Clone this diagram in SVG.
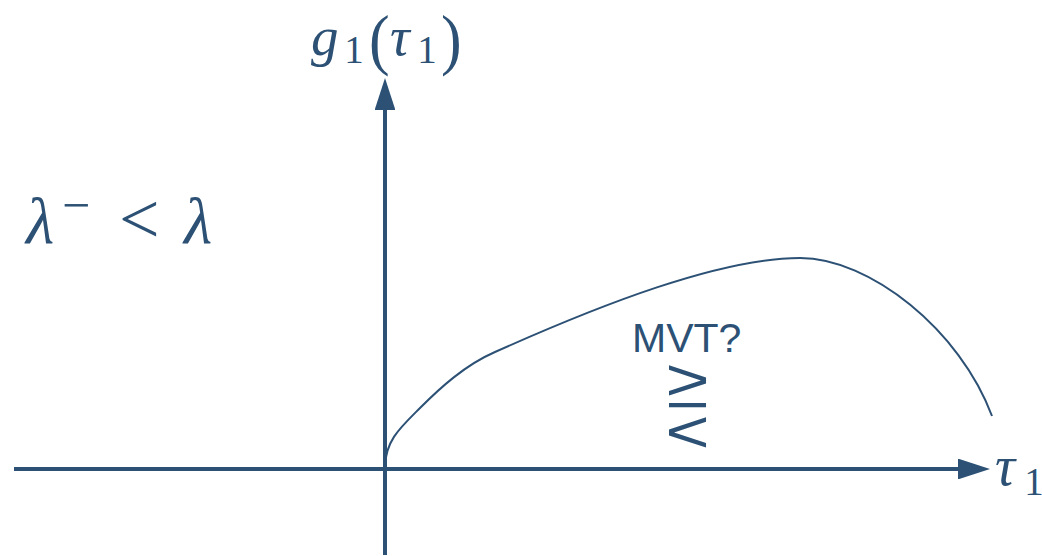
<svg xmlns="http://www.w3.org/2000/svg" width="1042" height="556" viewBox="0 0 1042 556">
<style>
.ax{stroke:#2c5175;stroke-width:4;fill:none}
.cv{stroke:#2c5175;stroke-width:2;fill:none}
.m{font-family:"Liberation Serif","DejaVu Serif",serif;fill:#2c5175}
.i{font-style:italic}
.s{font-family:"Liberation Sans",Arial,sans-serif;fill:#2c5175}
</style>
<defs>
<marker id="ah" markerWidth="8" markerHeight="5.2" refX="0" refY="2.6" orient="auto" markerUnits="strokeWidth">
<path d="M0,0 L8,2.6 L0,5.2 Z" fill="#2c5175"/>
</marker>
</defs>
<g id="connectors">
<line class="ax" x1="14" y1="469" x2="958" y2="469" marker-end="url(#ah)"/>
<line class="ax" x1="385" y1="555" x2="385" y2="110" marker-end="url(#ah)"/>
</g>
<g id="curve">
<path class="cv" d="M385,466 C386,440 400,428 420,408 C440,388 465,365 495,352 C600,305 720,258 800,258 C870,258 960,330 992,416"/>
</g>
<g id="ylabel">
<text class="m i" x="311" y="55" font-size="55">g</text>
<text class="m" x="354" y="63" font-size="39" text-anchor="middle">1</text>
<text class="m" transform="translate(369,62) scale(1,1.1)" font-size="62">(</text>
<text class="m i" x="390" y="55" font-size="55">τ</text>
<text class="m" x="427" y="63" font-size="39" text-anchor="middle">1</text>
<text class="m" transform="translate(441,62) scale(1,1.1)" font-size="62">)</text>
</g>
<g id="condition">
<text class="m i" x="26" y="243" font-size="65">λ</text>
<text class="m" x="62" y="222" font-size="50">−</text>
<text class="m" x="119" y="242.5" font-size="72">&lt;</text>
<text class="m i" x="184" y="243" font-size="65">λ</text>
</g>
<g id="xlabel">
<text class="m i" x="995" y="485" font-size="56">τ</text>
<text class="m" x="1034" y="495" font-size="39" text-anchor="middle">1</text>
</g>
<g id="mvt">
<text class="s" x="632" y="352" font-size="41">MVT?</text>
<text class="s" transform="translate(687.5,0) scale(1.27,1)" font-size="60" text-anchor="middle"><tspan x="0" y="400">&gt;</tspan><tspan x="0" y="425">−</tspan><tspan x="0" y="452">&lt;</tspan></text>
</g>
</svg>
